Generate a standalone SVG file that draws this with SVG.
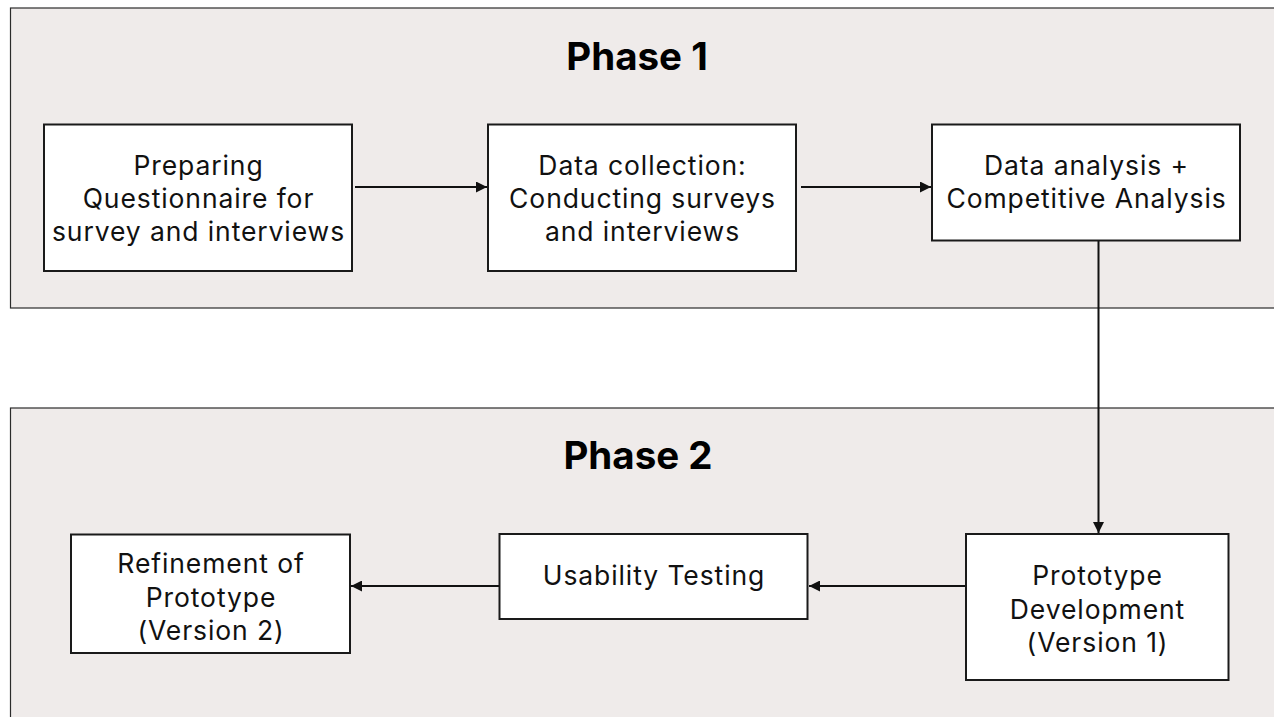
<svg xmlns="http://www.w3.org/2000/svg" width="1274" height="717" viewBox="0 0 1274 717">
<style>
.panel{fill:#efebea;stroke:#2b2b2b;stroke-width:1.2}
.box{fill:#ffffff;stroke:#1a1a1a;stroke-width:2}
.t{font-family:Inter,"Noto Sans","Liberation Sans",sans-serif;font-size:26.5px;letter-spacing:0.9px;fill:#111;text-anchor:middle}
.title{font-family:Inter,"Noto Sans","Liberation Sans",sans-serif;font-size:38.5px;font-weight:700;fill:#000;text-anchor:middle}
.c{stroke:#111;stroke-width:2;fill:none}
</style>
<defs>
<marker id="ah" viewBox="0 0 10 10" refX="10" refY="5" markerWidth="11" markerHeight="11" markerUnits="userSpaceOnUse" orient="auto">
<path d="M0,0 L10,5 L0,10 z" fill="#111"/>
</marker>
</defs>
<rect width="1274" height="717" fill="#ffffff"/>
<g id="phase1">
<rect class="panel" x="10.5" y="8" width="1280" height="300"/>
<text class="title" x="637" y="70">Phase 1</text>
</g>
<g id="phase2">
<rect class="panel" x="10.5" y="408" width="1280" height="330"/>
<text class="title" x="638" y="469">Phase 2</text>
</g>
<g id="connectors">
<line class="c" x1="355" y1="187" x2="487" y2="187" marker-end="url(#ah)"/>
<line class="c" x1="801" y1="187" x2="931" y2="187" marker-end="url(#ah)"/>
<line class="c" x1="1098.5" y1="241" x2="1098.5" y2="533" marker-end="url(#ah)"/>
<line class="c" x1="966" y1="586" x2="809" y2="586" marker-end="url(#ah)"/>
<line class="c" x1="499" y1="586" x2="351" y2="586" marker-end="url(#ah)"/>
</g>
<g id="n1">
<rect class="box" x="44" y="124.5" width="308" height="146.5"/>
<text class="t" x="198.5" y="175">Preparing</text>
<text class="t" x="198.5" y="208">Questionnaire for</text>
<text class="t" x="198.5" y="241">survey and interviews</text>
</g>
<g id="n2">
<rect class="box" x="488" y="124.5" width="308" height="146.5"/>
<text class="t" x="642.5" y="175">Data collection:</text>
<text class="t" x="642.5" y="208">Conducting surveys</text>
<text class="t" x="642.5" y="241">and interviews</text>
</g>
<g id="n3">
<rect class="box" x="932" y="124.5" width="308" height="116"/>
<text class="t" x="1086.5" y="175">Data analysis +</text>
<text class="t" x="1086.5" y="208">Competitive Analysis</text>
</g>
<g id="n4">
<rect class="box" x="966" y="534" width="262.5" height="146"/>
<text class="t" x="1097.5" y="585">Prototype</text>
<text class="t" x="1097.5" y="618.5">Development</text>
<text class="t" x="1097.5" y="652">(Version 1)</text>
</g>
<g id="n5">
<rect class="box" x="499.5" y="534" width="308" height="85"/>
<text class="t" x="654" y="585">Usability Testing</text>
</g>
<g id="n6">
<rect class="box" x="71" y="534.5" width="279" height="118.5"/>
<text class="t" x="211" y="573">Refinement of</text>
<text class="t" x="211" y="606.5">Prototype</text>
<text class="t" x="211" y="640">(Version 2)</text>
</g>
</svg>
